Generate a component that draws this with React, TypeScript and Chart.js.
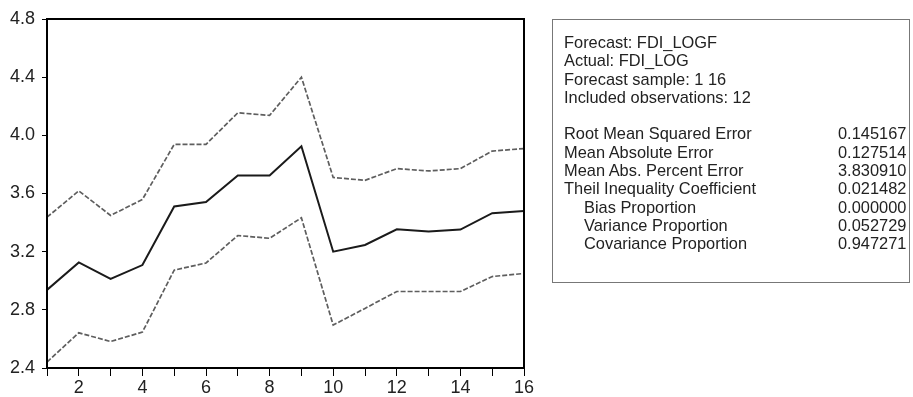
import { useEffect, useRef } from "react";
import { Chart, registerables } from "chart.js";

Chart.register(...registerables);

const periods = [1, 2, 3, 4, 5, 6, 7, 8, 9, 10, 11, 12, 13, 14, 15, 16];
const forecast = [2.937, 3.126, 3.013, 3.108, 3.511, 3.541, 3.724, 3.724, 3.925, 3.2, 3.246, 3.354, 3.338, 3.352, 3.465, 3.479];
const upperBand = [3.437, 3.618, 3.449, 3.559, 3.938, 3.938, 4.155, 4.137, 4.4, 3.71, 3.691, 3.771, 3.755, 3.771, 3.892, 3.909];
const lowerBand = [2.441, 2.642, 2.582, 2.647, 3.073, 3.122, 3.311, 3.292, 3.433, 2.695, 2.81, 2.926, 2.926, 2.926, 3.029, 3.05];
const yTicks = [2.4, 2.8, 3.2, 3.6, 4.0, 4.4, 4.8];
const xTickLabels = [2, 4, 6, 8, 10, 12, 14, 16];

const infoHeader = [
  "Forecast: FDI_LOGF",
  "Actual: FDI_LOG",
  "Forecast sample: 1 16",
  "Included observations: 12",
];
const statLabels = [
  "Root Mean Squared Error",
  "Mean Absolute Error",
  "Mean Abs. Percent Error",
  "Theil Inequality Coefficient",
  "Bias Proportion",
  "Variance Proportion",
  "Covariance Proportion",
];
const statValues = ["0.145167", "0.127514", "3.830910", "0.021482", "0.000000", "0.052729", "0.947271"];
const statIndent = [false, false, false, false, true, true, true];

const FONT = "'Liberation Sans', Arial, sans-serif";

const framePlugin = {
  id: "frame",
  afterDatasetsDraw(chart: any) {
    const { ctx, chartArea } = chart;
    ctx.save();
    ctx.strokeStyle = "#000";
    ctx.lineWidth = 2;
    ctx.strokeRect(chartArea.left, chartArea.top, chartArea.right - chartArea.left, chartArea.bottom - chartArea.top);
    ctx.restore();
  },
};

function toXY(values: number[]) {
  return values.map((v, i) => ({ x: periods[i], y: v }));
}

export default function App() {
  const ref = useRef<HTMLCanvasElement | null>(null);

  useEffect(() => {
    if (!ref.current) return;
    const dashed = {
      borderColor: "#5e5e5e",
      borderWidth: 1.7,
      borderDash: [5, 2],
      pointRadius: 0,
      tension: 0,
      fill: false,
    };
    const chart = new Chart(ref.current, {
      type: "line",
      data: {
        datasets: [
          { label: "upper", data: toXY(upperBand), ...dashed },
          { label: "lower", data: toXY(lowerBand), ...dashed },
          {
            label: "FDI_LOGF",
            data: toXY(forecast),
            borderColor: "#1a1a1a",
            borderWidth: 2,
            pointRadius: 0,
            tension: 0,
            fill: false,
          },
        ],
      },
      options: {
        animation: false,
        responsive: false,
        maintainAspectRatio: false,
        layout: { padding: { top: 19, right: 389, bottom: 0, left: 0 } },
        plugins: {
          legend: { display: false },
          tooltip: { enabled: false },
          title: { display: false },
        },
        scales: {
          x: {
            type: "linear",
            min: 1,
            max: 16,
            afterFit: (s: any) => {
              s.height = 29;
            },
            afterBuildTicks: (s: any) => {
              s.ticks = periods.map((v) => ({ value: v }));
            },
            grid: { display: true, drawOnChartArea: false, drawTicks: true, tickLength: 8, color: "#000", lineWidth: 1 },
            border: { display: true, color: "#000", width: 2 },
            ticks: {
              autoSkip: false,
              maxRotation: 0,
              padding: 1,
              color: "#222",
              font: { family: FONT, size: 18 },
              callback: (v: any) => (xTickLabels.includes(Number(v)) ? String(v) : ""),
            },
          },
          y: {
            type: "linear",
            min: 2.4,
            max: 4.8,
            afterFit: (s: any) => {
              s.width = 47;
            },
            afterBuildTicks: (s: any) => {
              s.ticks = yTicks.map((v) => ({ value: v }));
            },
            grid: { display: true, drawOnChartArea: false, drawTicks: true, tickLength: 5, color: "#000", lineWidth: 1 },
            border: { display: true, color: "#000", width: 2 },
            ticks: {
              padding: 7,
              color: "#222",
              font: { family: FONT, size: 18 },
              callback: (v: any) => Number(v).toFixed(1),
            },
          },
        },
      },
      plugins: [framePlugin],
    });
    return () => chart.destroy();
  }, []);

  const lineH = 18.3;
  const rowStyle: React.CSSProperties = { height: lineH, lineHeight: `${lineH}px`, whiteSpace: "nowrap", position: "relative" };

  return (
    <div style={{ position: "absolute", left: 0, top: 0, width: 913, height: 397, background: "#fff", overflow: "hidden" }}>
      <canvas ref={ref} width={913} height={397} style={{ position: "absolute", left: 0, top: 0 }} />
      <div
        style={{
          position: "absolute",
          left: 552,
          top: 19,
          width: 358,
          height: 264,
          boxSizing: "border-box",
          border: "1.5px solid #777",
          paddingTop: 13,
          paddingLeft: 11,
          fontFamily: FONT,
          fontSize: 16.4,
          color: "#222",
        }}
      >
        {infoHeader.map((t) => (
          <div key={t} style={rowStyle}>{t}</div>
        ))}
        <div style={rowStyle} />
        {statLabels.map((t, i) => (
          <div key={t} style={rowStyle}>
            <span style={{ position: "absolute", left: statIndent[i] ? 20 : 0 }}>{t}</span>
            <span style={{ position: "absolute", left: 274 }}>{statValues[i]}</span>
          </div>
        ))}
      </div>
    </div>
  );
}
